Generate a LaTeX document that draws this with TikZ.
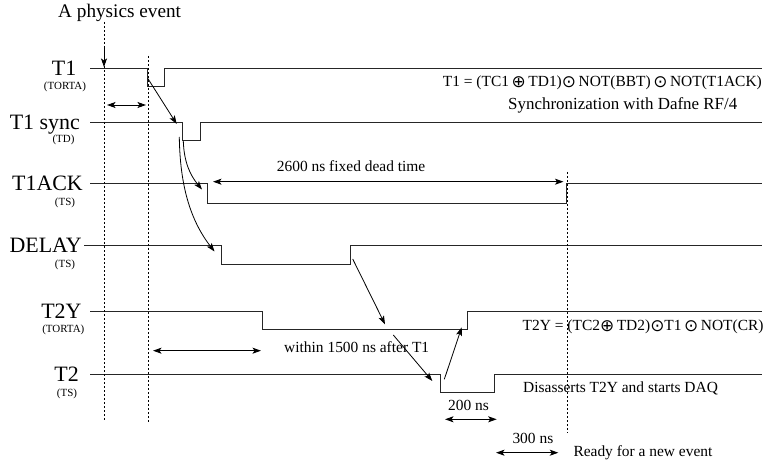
\documentclass[tikz,border=0pt]{standalone}
\usepackage{fontspec}
\setmainfont{Liberation Serif}
\newfontfamily\symfont{DejaVu Sans}
\newcommand{\xoplus}{{\symfont\fontsize{17}{18}\selectfont\raisebox{-0.6bp}{⊕}}}
\newcommand{\xodot}{{\symfont\fontsize{17}{18}\selectfont\raisebox{-0.6bp}{⊙}}}
\usetikzlibrary{arrows.meta}
\begin{document}
\begin{tikzpicture}[x=1bp,y=-1bp,
  sig/.style={line width=1bp, black!85, line join=miter},
  vdash/.style={line width=0.8bp, dash pattern=on 2.2bp off 1.8bp},
  arr/.style={line width=0.8bp, -{Stealth[length=8.5bp,width=6bp,inset=2bp]}},
  darr/.style={line width=0.9bp, {Stealth[length=8.5bp,width=6bp,inset=2bp]}-{Stealth[length=8.5bp,width=6bp,inset=2bp]}},
  lab/.style={font=\fontsize{22}{24}\selectfont, inner sep=0pt, anchor=base east},
  sublab/.style={font=\fontsize{11}{12}\selectfont, inner sep=0pt},
  note/.style={font=\fontsize{15.5}{17}\selectfont, inner sep=0pt, anchor=base west},
]
\useasboundingbox (0,0) rectangle (764,466);

% ---- signals
\draw[sig] (90,69) -- (147,69) -- (147,87) -- (164,87) -- (164,69) -- (762,69);
\draw[sig] (90,122.7) -- (182.5,122.7) -- (182.5,140.5) -- (200,140.5) -- (200,122.7) -- (762,122.7);
\draw[sig] (90,183.5) -- (207.7,183.5) -- (207.7,203.3) -- (566.5,203.3) -- (566.5,184) -- (762,184);
\draw[sig] (84,245.7) -- (221.7,245.7) -- (221.7,265) -- (350.7,265) -- (350.7,245.7) -- (762,245.7);
\draw[sig] (90,312) -- (262.7,312) -- (262.7,329.5) -- (467.5,329.5) -- (467.5,312) -- (762,312);
\draw[sig] (90,374.3) -- (440.7,374.3) -- (440.7,392) -- (494,392) -- (494,374.3) -- (762,374.3);

% ---- dashed verticals
\coordinate (evtop) at (104,22);
\coordinate (evbot) at (104,422);
\coordinate (syntop) at (148,56);
\coordinate (synbot) at (148,422);
\coordinate (rdytop) at (567,172);
\coordinate (rdybot) at (567,433);
\draw[vdash] (evtop) -- (evbot);
\draw[vdash] (syntop) -- (synbot);
\draw[vdash] (rdytop) -- (rdybot);

% ---- labels
\node[font=\fontsize{19.3}{21}\selectfont, inner sep=0pt, anchor=base west] (evt) at (58,17.3) {A physics event};
\node[lab] (lT1) at (76.5,76) {T1};
\node[sublab] (sT1) at (65,87) {(TORTA)};
\node[lab] (lT1s) at (80,129.7) {T1 sync};
\node[sublab] (sT1s) at (63.5,139.5) {(TD)};
\node[lab] (lT1A) at (83,190.5) {T1ACK};
\node[sublab] (sT1A) at (65,203) {(TS)};
\node[lab] (lDel) at (82,252.7) {DELAY};
\node[sublab] (sDel) at (65,265) {(TS)};
\node[lab] (lT2Y) at (81.7,319) {T2Y};
\node[sublab] (sT2Y) at (63.3,330) {(TORTA)};
\node[lab] (lT2) at (79,381.3) {T2};
\node[sublab] (sT2) at (67,393.5) {(TS)};

% ---- notes
\node[note] (fT1) at (442.7,86.5) {T1 = (TC1\,\xoplus\,TD1)\xodot\,NOT(BBT)\,\xodot\,NOT(T1ACK)};
\node[note, font=\fontsize{17}{19}\selectfont] (fSync) at (508,110) {Synchronization with Dafne RF/4};
\node[note] (fDead) at (276.7,171.7) {2600 ns fixed dead time};
\node[note] (fWithin) at (284,353) {within 1500 ns after T1};
\node[note] (fT2Y) at (522.5,330.5) {T2Y = (TC2\xoplus\,TD2)\xodot T1\,\xodot\,NOT(CR)};
\node[note] (fDis) at (523,392.8) {Disasserts T2Y and starts DAQ};
\node[note] (f200) at (448,410.5) {200 ns};
\node[note] (f300) at (512.3,443.5) {300 ns};
\node[note] (fRdy) at (573.3,456) {Ready for a new event};

% ---- arrow end points
\coordinate (evA) at (104,46);
\coordinate (evB) at (104,67);
\coordinate (d1a) at (107,105);
\coordinate (d1b) at (146,105);
\coordinate (t1f) at (147.7,78.3);
\coordinate (t1sIn) at (176.7,124);
\coordinate (c1a) at (183.3,141);
\coordinate (c1b) at (202,189.5);
\coordinate (c2a) at (179.3,137);
\coordinate (c2b) at (214.5,251.5);
\coordinate (deadA) at (213,181.7);
\coordinate (deadB) at (563.5,181.7);
\coordinate (delR) at (352.7,259);
\coordinate (t2yIn) at (385,324.3);
\coordinate (t2yOut) at (393.3,335);
\coordinate (t2In) at (432.3,381);
\coordinate (t2Out) at (444.3,379.3);
\coordinate (t2yUp) at (461.7,327.3);
\coordinate (wA) at (153,350.7);
\coordinate (wB) at (261,350.7);
\coordinate (a2A) at (445,419.3);
\coordinate (a2B) at (496.7,419.3);
\coordinate (a3A) at (496,452.7);
\coordinate (a3B) at (558.3,452.7);

% ---- arrows
\draw[arr] (evA) -- (evB);
\draw[darr] (d1a) -- (d1b);
\draw[arr] (t1f) -- (t1sIn);
\draw[arr] (c1a) .. controls (184,162) and (190,175) .. (c1b);
\draw[arr] (c2a) .. controls (180,185) and (190,220) .. (c2b);
\draw[darr] (deadA) -- (deadB);
\draw[arr] (delR) -- (t2yIn);
\draw[arr] (t2yOut) -- (t2In);
\draw[arr] (t2Out) -- (t2yUp);
\draw[darr] (wA) -- (wB);
\draw[darr] (a2A) -- (a2B);
\draw[darr] (a3A) -- (a3B);
\end{tikzpicture}
\end{document}
